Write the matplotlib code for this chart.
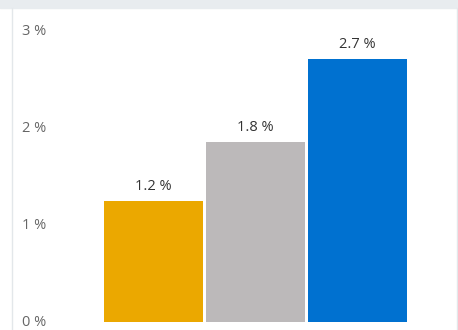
import matplotlib
matplotlib.use("Agg")
import matplotlib.pyplot as plt
from matplotlib.patches import Rectangle

# values (percent)
categories = ["A", "B", "C"]
values = [1.25, 1.86, 2.72]
bar_labels = ["1.2 %", "1.8 %", "2.7 %"]
colors = ["#EBA800", "#BCB9BA", "#0071D0"]
yticks = [0, 1, 2, 3]
ytick_labels = ["0 %", "1 %", "2 %", "3 %"]

W, H = 458, 330
fig = plt.figure(figsize=(W / 100, H / 100), dpi=100)
fig.patch.set_facecolor("white")

# light frame: top band, left and right border lines
fig.patches.append(Rectangle((0, 1 - 8 / H), 1, 8 / H, transform=fig.transFigure,
                             color="#E8ECEF", zorder=0))
fig.add_artist(plt.Line2D([11.5 / W, 11.5 / W], [0, 1 - 8 / H], transform=fig.transFigure,
                          color="#E3E7EA", lw=1))
fig.add_artist(plt.Line2D([456.5 / W, 456.5 / W], [0, 1 - 8 / H], transform=fig.transFigure,
                          color="#E3E7EA", lw=1))

left, right = 15, 455
ax = fig.add_axes([left / W, 0, (right - left) / W, (H - 8) / H])
ax.set_facecolor("none")

x = list(range(len(categories)))
ax.bar(x, values, width=0.97, color=colors, edgecolor="none")

px_per_unit = 102.0
ax.set_xlim(-(153.5 - left) / px_per_unit, 2 + (right - 357.5) / px_per_unit)
py = 96.7
ax.set_ylim(-(H - 322) / py, 3 + (32 - 8) / py)

for xi, v, lab in zip(x, values, bar_labels):
    ax.annotate(lab, (xi, v), xytext=(0, 5), textcoords="offset points",
                ha="center", va="bottom", fontsize=10.5, color="#333333",
                family="Open Sans")

for t, lab in zip(yticks, ytick_labels):
    ax.annotate(lab, (0, t), xycoords=("figure fraction", "data"),
                xytext=(22, 0), textcoords="offset pixels",
                ha="left", va="center", fontsize=10.5, color="#666666",
                family="Open Sans")

ax.axis("off")
fig.savefig("out.png", dpi=100)
